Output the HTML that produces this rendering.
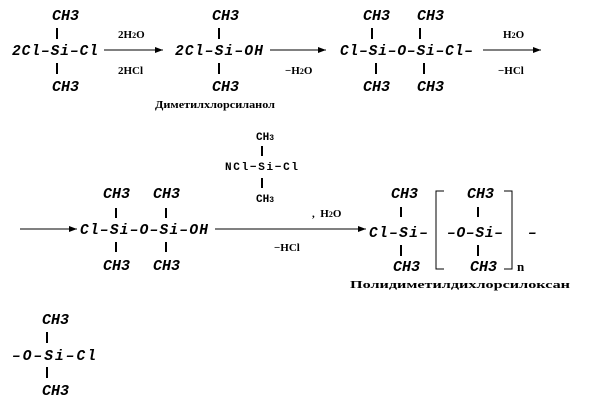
<!DOCTYPE html>
<html><head><meta charset="utf-8"><style>
html,body{margin:0;padding:0;background:#fff}
svg{display:block}
.f{font-family:"Liberation Mono",monospace;font-style:italic;font-weight:bold;font-size:14.5px}
.r{font-family:"Liberation Mono",monospace;font-weight:bold;font-size:11px}
.c{font-family:"Liberation Serif",serif;font-weight:bold;font-size:11px}
</style></head><body>
<svg width="601" height="410" viewBox="0 0 601 410" xmlns="http://www.w3.org/2000/svg">
<defs><marker id="a" markerWidth="8" markerHeight="6" refX="8" refY="3" orient="auto" markerUnits="userSpaceOnUse"><path d="M0,0 L8,3 L0,6 z" fill="#000"/></marker></defs>
<g stroke="#000" stroke-width="2">
<line x1="57" y1="28" x2="57" y2="39"/><line x1="57" y1="63" x2="57" y2="74"/>
<line x1="219" y1="28" x2="219" y2="39"/><line x1="219" y1="63" x2="219" y2="74"/>
<line x1="372" y1="28" x2="372" y2="39"/><line x1="376" y1="63" x2="376" y2="74"/>
<line x1="420" y1="28" x2="420" y2="39"/><line x1="424" y1="63" x2="424" y2="74"/>
<line x1="262" y1="146" x2="262" y2="156"/><line x1="262" y1="178" x2="262" y2="188"/>
<line x1="116" y1="208" x2="116" y2="218"/><line x1="116" y1="242" x2="116" y2="252"/>
<line x1="166" y1="208" x2="166" y2="218"/><line x1="166" y1="242" x2="166" y2="252"/>
<line x1="401" y1="207" x2="401" y2="217"/><line x1="401" y1="245" x2="401" y2="256"/>
<line x1="478" y1="207" x2="478" y2="217"/><line x1="478" y1="245" x2="478" y2="256"/>
<line x1="47" y1="332" x2="47" y2="343"/><line x1="47" y1="367" x2="47" y2="378"/>
</g>
<g stroke="#000" stroke-width="1" fill="none">
<line x1="104" y1="50" x2="163" y2="50" marker-end="url(#a)"/>
<line x1="270" y1="50" x2="326" y2="50" marker-end="url(#a)"/>
<line x1="483" y1="50" x2="541" y2="50" marker-end="url(#a)"/>
<line x1="20" y1="229" x2="77" y2="229" marker-end="url(#a)"/>
<line x1="215" y1="229" x2="366" y2="229" marker-end="url(#a)"/>
<path d="M444,191 H436 V269 H444"/>
<path d="M504,191 H512 V269 H504"/>
</g>
<g class="f">
<text x="52" y="20" textLength="27" lengthAdjust="spacingAndGlyphs">CH3</text>
<text x="12" y="55" textLength="86" lengthAdjust="spacing">2Cl–Si–Cl</text>
<text x="52" y="91" textLength="27" lengthAdjust="spacingAndGlyphs">CH3</text>
<text x="212" y="20" textLength="27" lengthAdjust="spacingAndGlyphs">CH3</text>
<text x="175" y="55" textLength="88" lengthAdjust="spacing">2Cl–Si–OH</text>
<text x="212" y="91" textLength="27" lengthAdjust="spacingAndGlyphs">CH3</text>
<text x="363" y="20" textLength="27" lengthAdjust="spacingAndGlyphs">CH3</text>
<text x="417" y="20" textLength="27" lengthAdjust="spacingAndGlyphs">CH3</text>
<text x="340" y="55" textLength="133" lengthAdjust="spacing">Cl–Si–O–Si–Cl–</text>
<text x="363" y="91" textLength="27" lengthAdjust="spacingAndGlyphs">CH3</text>
<text x="417" y="91" textLength="27" lengthAdjust="spacingAndGlyphs">CH3</text>

<text x="103" y="198" textLength="27" lengthAdjust="spacingAndGlyphs">CH3</text>
<text x="153" y="198" textLength="27" lengthAdjust="spacingAndGlyphs">CH3</text>
<text x="80" y="234" textLength="128" lengthAdjust="spacing">Cl–Si–O–Si–OH</text>
<text x="103" y="270" textLength="27" lengthAdjust="spacingAndGlyphs">CH3</text>
<text x="153" y="270" textLength="27" lengthAdjust="spacingAndGlyphs">CH3</text>

<text x="391" y="198" textLength="27" lengthAdjust="spacingAndGlyphs">CH3</text>
<text x="369" y="237" textLength="59" lengthAdjust="spacing">Cl–Si–</text>
<text x="393" y="271" textLength="27" lengthAdjust="spacingAndGlyphs">CH3</text>
<text x="467" y="198" textLength="27" lengthAdjust="spacingAndGlyphs">CH3</text>
<text x="447" y="237" textLength="56" lengthAdjust="spacing">–O–Si–</text>
<text x="470" y="271" textLength="27" lengthAdjust="spacingAndGlyphs">CH3</text>
<text x="528" y="237">–</text>

<text x="42" y="324" textLength="27" lengthAdjust="spacingAndGlyphs">CH3</text>
<text x="12" y="360" textLength="84" lengthAdjust="spacing">–O–Si–Cl</text>
<text x="42" y="395" textLength="27" lengthAdjust="spacingAndGlyphs">CH3</text>
</g>
<g class="c">
<text x="118" y="38">2H<tspan font-size="8">2</tspan>O</text>
<text x="118" y="74">2HCl</text>
<text x="285" y="74">−H<tspan font-size="8">2</tspan>O</text>
<text x="503" y="38">H<tspan font-size="8">2</tspan>O</text>
<text x="498" y="74">−HCl</text>
<text x="312" y="217">, &#160;H<tspan font-size="8">2</tspan>O</text>
<text x="274" y="251">−HCl</text>
<text x="517" y="271" font-size="13">n</text>
<text x="155" y="108" textLength="120" lengthAdjust="spacingAndGlyphs">Диметилхлорсиланол</text>
<text x="350" y="288" textLength="220" lengthAdjust="spacingAndGlyphs">Полидиметилдихлорсилоксан</text>
</g>
<g class="r">
<text x="256" y="140">CH<tspan font-size="8">3</tspan></text>
<text x="225" y="170" textLength="73" lengthAdjust="spacing">NCl−Si−Cl</text>
<text x="256" y="202">CH<tspan font-size="8">3</tspan></text>
</g>
</svg>
</body></html>
